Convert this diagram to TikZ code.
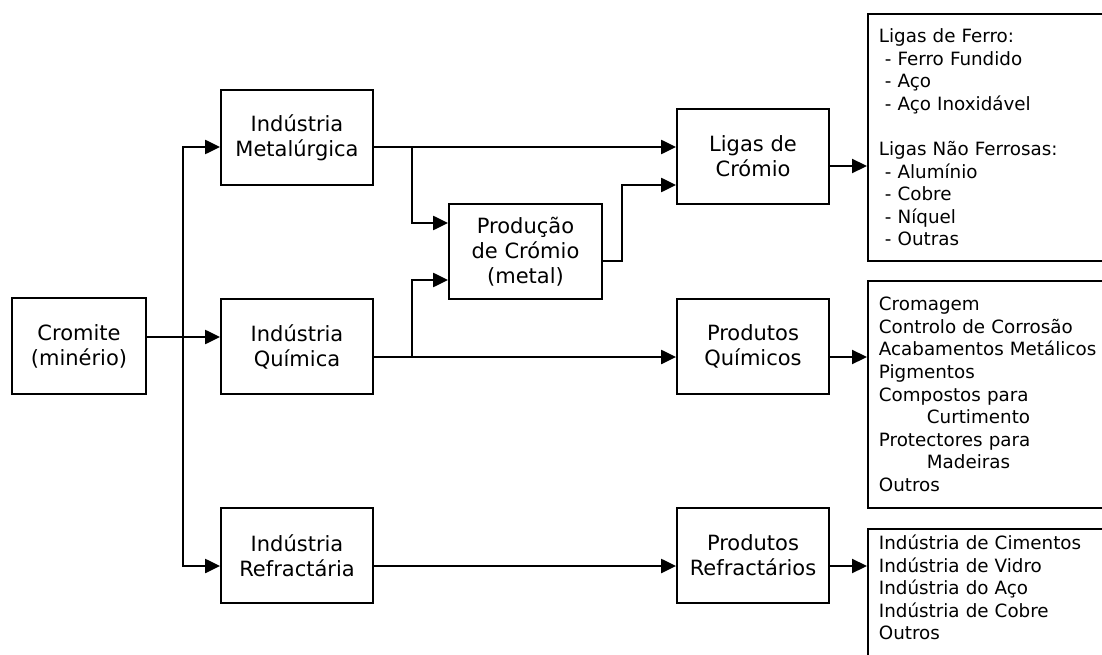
\documentclass[tikz,border=0pt]{standalone}
\usepackage{fontspec}
\setmainfont{DejaVu Sans}
\usetikzlibrary{arrows.meta}

\begin{document}
\begin{tikzpicture}[
        x=1pt, y=-1pt,
        box/.style={draw, line width=1.8pt, minimum width=152pt, minimum height=95pt,
            inner sep=0pt, align=center, font=\fontsize{21}{25}\selectfont},
        lista/.style={draw, line width=1.8pt, anchor=north west, align=left,
            text width=230pt, inner xsep=11pt, font=\fontsize{18.3}{22.6}\selectfont},
        seta/.style={line width=2.2pt, -{Triangle[length=15pt, width=14pt]}}
    ]
    \useasboundingbox (0,0) rectangle (1102,655);
    \clip (0,0) rectangle (1102,655);

    \node[box, minimum width=134pt, minimum height=96pt] (crom) at (79,346) {Cromite\\(minério)};
    \node[box] (met) at (297,137.5) {Indústria\\Metalúrgica};
    \node[box] (qui) at (297,346.5) {Indústria\\Química};
    \node[box] (ref) at (297,555.5) {Indústria\\Refractária};
    \node[box, minimum width=153pt] (prod) at (525.5,251.5) {Produção\\de Crómio\\(metal)};
    \node[box] (ligas) at (753,156.5) {Ligas de\\Crómio};
    \node[box] (pquim) at (753,346.5) {Produtos\\Químicos};
    \node[box] (pref) at (753,555.5) {Produtos\\Refractários};

    \node[lista, minimum height=247pt] (ligasL) at (867,13) {Ligas de Ferro:\\
        \hspace*{6pt}- Ferro Fundido\\
        \hspace*{6pt}- Aço\\
        \hspace*{6pt}- Aço Inoxidável\\[22.6pt]
        Ligas Não Ferrosas:\\
        \hspace*{6pt}- Alumínio\\
        \hspace*{6pt}- Cobre\\
        \hspace*{6pt}- Níquel\\
        \hspace*{6pt}- Outras};
    \node[lista, minimum height=227pt] (quimL) at (867,280) {Cromagem\\
        Controlo de Corrosão\\
        Acabamentos Metálicos\\
        Pigmentos\\
        Compostos para\\
        \hspace*{48pt}Curtimento\\
        Protectores para\\
        \hspace*{48pt}Madeiras\\
        Outros};
    \node[lista, inner ysep=6pt] (refL) at (867,528) {Indústria de Cimentos\\
        Indústria de Vidro\\
        Indústria do Aço\\
        Indústria de Cobre\\
        Outros\\[50pt]\strut};

    \coordinate (bTop) at (183,147);
    \coordinate (bBot) at (183,566);
    \coordinate (jM) at (412,147);
    \coordinate (jQ) at (412,357);

    \draw[seta] (bBot) |- (bTop -| met.west);
    \draw[seta] (bTop) |- (bBot -| ref.west);
    \draw[seta] ([yshift=9pt]crom.east) -- ([yshift=9pt]crom.east -| qui.west);

    \draw[seta] ([yshift=-9.5pt]met.east) -- ([yshift=-9.5pt]met.east -| ligas.west);
    \draw[seta] (jM) |- ([yshift=28.5pt]prod.west);
    \draw[seta] ([yshift=-10.5pt]qui.east) -- ([yshift=-10.5pt]qui.east -| pquim.west);
    \draw[seta] (jQ) |- ([yshift=-28.5pt]prod.west);
    \draw[seta] ([yshift=-9.5pt]prod.east) -- ++(19,0) |- ([yshift=-28.5pt]ligas.west);
    \draw[seta] ([yshift=-10.5pt]ref.east) -- ([yshift=-10.5pt]ref.east -| pref.west);

    \draw[seta] ([yshift=-9.5pt]ligas.east) -- ([yshift=-9.5pt]ligas.east -| ligasL.west);
    \draw[seta] ([yshift=-10.5pt]pquim.east) -- ([yshift=-10.5pt]pquim.east -| quimL.west);
    \draw[seta] ([yshift=-10.5pt]pref.east) -- ([yshift=-10.5pt]pref.east -| refL.west);
\end{tikzpicture}
\end{document}
